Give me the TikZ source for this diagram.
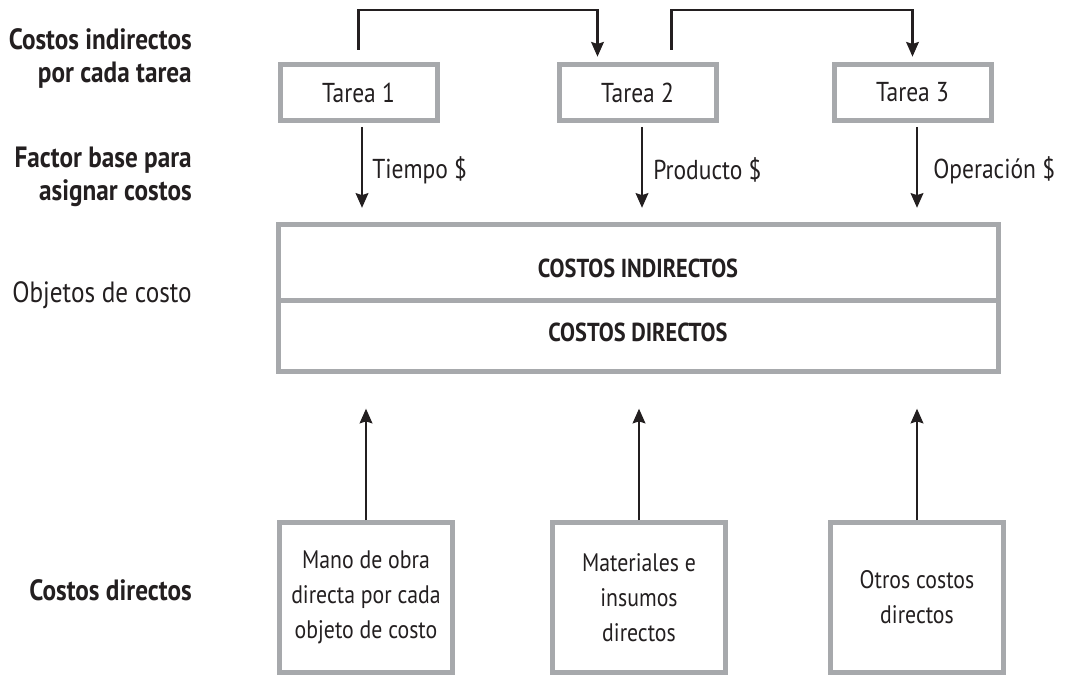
\documentclass[tikz,border=0pt]{standalone}
\usepackage{fontspec}
\setmainfont[FakeStretch=0.86]{PT Sans}
\usetikzlibrary{calc}
\usetikzlibrary{arrows.meta}
\definecolor{boxgray}{RGB}{167,169,172}
\definecolor{ink}{RGB}{35,31,32}

\begin{document}
\begin{tikzpicture}[x=0.75pt, y=-0.75pt,
    every node/.style={text=ink, font=\fontsize{20.5}{26.25}\selectfont},
    greybox/.style={draw=boxgray, line width=3.75pt, fill=white, inner sep=0pt, align=center},
    arr/.style={draw=ink, line width=1.8pt, -{Stealth[length=11pt,width=9.5pt,inset=1.5pt]}},
    sidelabel/.style={anchor=east, align=right, inner sep=0pt, font=\fontsize{22}{24.75}\selectfont},
    boldlabel/.style={sidelabel, font=\bfseries\fontsize{22}{24.75}\selectfont}]

    \useasboundingbox (0,0) rectangle (1067,677);

    % task boxes
    \node[greybox, minimum width=157*0.75pt, minimum height=56*0.75pt] (t1) at (358.5,92.5) {Tarea 1};
    \node[greybox, minimum width=157*0.75pt, minimum height=56*0.75pt] (t2) at (637.5,92.5) {Tarea 2};
    \node[greybox, minimum width=157*0.75pt, minimum height=56*0.75pt] (t3) at (912.5,92.5) {Tarea 3};

    % cost object, two parts
    \node[greybox, minimum width=720*0.75pt, minimum height=75.5*0.75pt] (ind) at (638,262.75) {};
    \node[greybox, minimum width=720*0.75pt, minimum height=71*0.75pt] (dir) at (638,336) {};
    \node[font=\bfseries\fontsize{19.5}{21}\selectfont] (indtxt) at (638,268) {COSTOS INDIRECTOS};
    \node[font=\bfseries\fontsize{19.5}{21}\selectfont] (dirtxt) at (638,332) {COSTOS DIRECTOS};

    % direct cost boxes
    \node[greybox, font=\fontsize{19}{26.25}\selectfont, minimum width=173*0.75pt, minimum height=150*0.75pt] (b1) at (366,597.5) {Mano de obra\\directa por cada\\objeto de costo};
    \node[greybox, font=\fontsize{19}{26.25}\selectfont, minimum width=173*0.75pt, minimum height=150*0.75pt] (b2) at (639,597.5) {Materiales e\\insumos\\directos};
    \node[greybox, font=\fontsize{19}{26.25}\selectfont, minimum width=173*0.75pt, minimum height=150*0.75pt] (b3) at (917,597.5) {Otros costos\\directos};

    % row labels on the left
    \node[boldlabel] (lbtask) at (192,58.5) {Costos indirectos\\por cada tarea};
    \node[boldlabel] (lbbase) at (192,176.5) {Factor base para\\asignar costos};
    \node[sidelabel] (lbobj) at (192,295) {Objetos de costo};
    \node[boldlabel] (lbdir) at (192,590) {Costos directos};

    % links between tasks
    \draw[arr, shorten <=9pt, shorten >=4pt] (t1.north) -- ++(0,-52) -| ($(t2.north)+(-40,0)$);
    \draw[arr, shorten <=9pt, shorten >=4pt] ($(t2.north)+(34,0)$) -- ++(0,-52) -| (t3.north);

    % allocation base arrows
    \coordinate (a1) at ($(t1.south)+(3.5,0)$);
    \coordinate (a2) at ($(t2.south)+(4.5,0)$);
    \coordinate (a3) at ($(t3.south)+(4.5,0)$);
    \draw[arr, shorten <=3pt, shorten >=11pt] (a1) -- (a1 |- ind.north);
    \draw[arr, shorten <=3pt, shorten >=11pt] (a2) -- (a2 |- ind.north);
    \draw[arr, shorten <=3pt, shorten >=11pt] (a3) -- (a3 |- ind.north);
    \node[anchor=west, inner sep=0pt] (ltime) at ($(a1)+(10,47)$) {Tiempo \$};
    \node[anchor=west, inner sep=0pt] (lprod) at ($(a2)+(11,47)$) {Producto \$};
    \node[anchor=west, inner sep=0pt] (loper) at ($(a3)+(16,47)$) {Operación \$};

    % direct cost arrows
    \draw[arr, shorten >=26pt] (b1.north) -- (b1.north |- dir.south);
    \draw[arr, shorten >=26pt] (b2.north) -- (b2.north |- dir.south);
    \draw[arr, shorten >=26pt] (b3.north) -- (b3.north |- dir.south);

\end{tikzpicture}
\end{document}
